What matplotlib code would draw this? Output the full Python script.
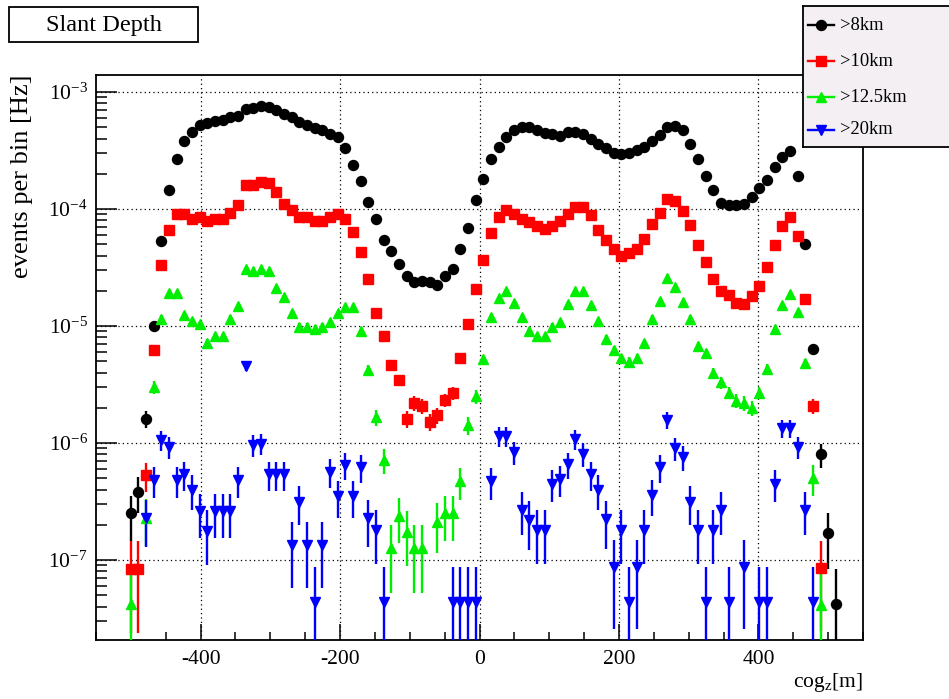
import numpy as np
import matplotlib
matplotlib.use("Agg")
import matplotlib.pyplot as plt
from matplotlib.patches import Rectangle
from matplotlib.ticker import MultipleLocator, LogLocator, NullFormatter

plt.rcParams['font.family'] = ['Liberation Serif', 'DejaVu Serif']
plt.rcParams['mathtext.fontset'] = 'custom'
plt.rcParams['mathtext.rm'] = 'Liberation Serif'
plt.rcParams['mathtext.it'] = 'Liberation Serif:italic'
plt.rcParams['axes.unicode_minus'] = False

# histogram binning: 100 bins over [-550, 550], values given for bins 4..96
edges = np.linspace(-550, 550, 101)
centers = 0.5 * (edges[:-1] + edges[1:])
x = centers[4:97]

# rate of one single event (lowest points), used for the Poisson error bars
unit = 4.3e-8

labels = [">8km", ">10km", ">12.5km", ">20km"]

y_8km = [
    2.5e-7, 3.8e-7, 1.6e-6, 1.0e-5, 5.3e-5, 1.45e-4, 2.7e-4, 3.85e-4, 4.55e-4, 5.2e-4,
    5.4e-4, 5.65e-4, 5.8e-4, 6.1e-4, 6.2e-4, 7.1e-4, 7.3e-4, 7.6e-4, 7.4e-4, 7.0e-4,
    6.5e-4, 6.1e-4, 5.6e-4, 5.2e-4, 4.9e-4, 4.7e-4, 4.4e-4, 4.1e-4, 3.3e-4, 2.4e-4,
    1.73e-4, 1.16e-4, 8.2e-5, 5.4e-5, 4.4e-5, 3.4e-5, 2.7e-5, 2.4e-5, 2.45e-5, 2.4e-5,
    2.25e-5, 2.7e-5, 3.05e-5, 4.6e-5, 6.9e-5, 1.19e-4, 1.8e-4, 2.7e-4, 3.4e-4, 4.1e-4,
    4.7e-4, 5.0e-4, 5.0e-4, 4.7e-4, 4.5e-4, 4.4e-4, 4.2e-4, 4.6e-4, 4.6e-4, 4.4e-4,
    4.0e-4, 3.6e-4, 3.3e-4, 3.0e-4, 2.95e-4, 3.0e-4, 3.2e-4, 3.4e-4, 3.8e-4, 4.3e-4,
    5.0e-4, 5.1e-4, 4.7e-4, 3.6e-4, 2.7e-4, 1.9e-4, 1.45e-4, 1.12e-4, 1.08e-4, 1.08e-4,
    1.1e-4, 1.27e-4, 1.5e-4, 1.77e-4, 2.3e-4, 2.8e-4, 3.15e-4, 1.9e-4, 5.0e-5, 6.4e-6,
    8.0e-7, 1.69e-7, 4.2e-8]

y_10km = [
    8.4e-8, 8.4e-8, 5.3e-7, 6.3e-6, 3.3e-5, 6.6e-5, 9.1e-5, 9.1e-5, 8.3e-5, 8.6e-5,
    7.9e-5, 8.2e-5, 8.3e-5, 9.2e-5, 1.08e-4, 1.6e-4, 1.6e-4, 1.71e-4, 1.66e-4, 1.39e-4,
    1.1e-4, 9.9e-5, 8.6e-5, 8.6e-5, 7.9e-5, 7.9e-5, 8.5e-5, 9.1e-5, 8.3e-5, 6.4e-5,
    4.3e-5, 2.5e-5, 1.28e-5, 8.2e-6, 4.6e-6, 3.45e-6, 1.6e-6, 2.2e-6, 2.07e-6, 1.52e-6,
    1.73e-6, 2.33e-6, 2.66e-6, 5.3e-6, 1.05e-5, 2.06e-5, 3.7e-5, 6.3e-5, 8.6e-5, 9.9e-5,
    9.1e-5, 8.3e-5, 7.8e-5, 7.1e-5, 6.7e-5, 7.1e-5, 7.9e-5, 9.1e-5, 1.05e-4, 1.05e-4,
    8.9e-5, 6.6e-5, 5.4e-5, 4.6e-5, 4.0e-5, 4.2e-5, 4.6e-5, 5.6e-5, 7.4e-5, 9.3e-5,
    1.21e-4, 1.18e-4, 9.6e-5, 7.3e-5, 4.9e-5, 3.5e-5, 2.5e-5, 2.0e-5, 1.84e-5, 1.56e-5,
    1.55e-5, 1.8e-5, 2.2e-5, 3.2e-5, 4.9e-5, 7.1e-5, 8.6e-5, 5.9e-5, 1.7e-5, 2.07e-6,
    8.5e-8, 0, 0]

y_12km = [
    4.2e-8, 0, 2.3e-7, 3.0e-6, 1.16e-5, 1.93e-5, 1.93e-5, 1.24e-5, 1.11e-5, 1.04e-5,
    7.2e-6, 8.2e-6, 8.2e-6, 1.16e-5, 1.48e-5, 3.1e-5, 2.95e-5, 3.1e-5, 2.95e-5, 2.1e-5,
    1.76e-5, 1.3e-5, 9.9e-6, 9.9e-6, 9.5e-6, 9.9e-6, 1.09e-5, 1.28e-5, 1.46e-5, 1.46e-5,
    9.1e-6, 4.2e-6, 1.66e-6, 7.2e-7, 1.26e-7, 2.4e-7, 1.75e-7, 1.26e-7, 1.26e-7, 0,
    2.1e-7, 2.5e-7, 2.5e-7, 4.7e-7, 1.43e-6, 2.5e-6, 5.2e-6, 1.19e-5, 1.72e-5, 2.0e-5,
    1.56e-5, 1.19e-5, 9.1e-6, 8.2e-6, 8.2e-6, 9.9e-6, 1.09e-5, 1.53e-5, 2.0e-5, 1.98e-5,
    1.51e-5, 1.11e-5, 7.8e-6, 6.2e-6, 5.3e-6, 4.96e-6, 5.3e-6, 7.1e-6, 1.16e-5, 1.64e-5,
    2.56e-5, 2.14e-5, 1.61e-5, 1.16e-5, 6.7e-6, 5.9e-6, 4.0e-6, 3.3e-6, 2.7e-6, 2.3e-6,
    2.2e-6, 2.0e-6, 2.7e-6, 4.3e-6, 9.5e-6, 1.5e-5, 1.88e-5, 1.33e-5, 4.8e-6, 5.0e-7,
    4.1e-8, 0, 0]

y_20km = [
    0, 0, 2.27e-7, 4.8e-7, 1.06e-6, 9.3e-7, 4.8e-7, 5.4e-7, 4.0e-7, 2.6e-7,
    1.78e-7, 2.6e-7, 2.6e-7, 2.6e-7, 4.8e-7, 4.55e-6, 9.6e-7, 9.9e-7, 5.4e-7, 5.4e-7,
    5.4e-7, 1.34e-7, 3.15e-7, 1.34e-7, 4.4e-8, 1.34e-7, 5.7e-7, 3.5e-7, 6.5e-7, 3.5e-7,
    6.2e-7, 2.27e-7, 1.8e-7, 4.4e-8, 0, 0, 0, 0, 0, 0,
    0, 0, 4.4e-8, 4.4e-8, 4.4e-8, 4.4e-8, 0, 4.7e-7, 1.15e-6, 1.15e-6,
    8.4e-7, 2.7e-7, 2.2e-7, 1.8e-7, 1.8e-7, 4.5e-7, 4.9e-7, 6.6e-7, 1.08e-6, 8.1e-7,
    5.4e-7, 4.0e-7, 2.23e-7, 8.7e-8, 1.8e-7, 4.4e-8, 8.7e-8, 1.8e-7, 3.6e-7, 6.2e-7,
    1.57e-6, 9.0e-7, 7.6e-7, 3.15e-7, 1.8e-7, 4.4e-8, 1.8e-7, 2.7e-7, 4.4e-8, 0,
    8.7e-8, 0, 4.4e-8, 4.4e-8, 4.5e-7, 1.34e-6, 1.34e-6, 9.3e-7, 2.7e-7, 4.4e-8,
    0, 0, 0]

series = [y_8km, y_10km, y_12km, y_20km]
colors = ['black', '#ff0000', '#00ee00', '#0000ff']
markers = ['o', 's', '^', 'v']
msizes = [7.2, 7.2, 7.6, 7.8]

W, H = 949, 699
fig = plt.figure(figsize=(W / 100, H / 100), dpi=100)
ax = fig.add_axes([96 / W, 1 - 640 / H, 767 / W, 565 / H])

for ys, c, m, ms in zip(series, colors, markers, msizes):
    ys = np.array(ys, dtype=float)
    ok = ys > 0
    xs, yv = x[ok], ys[ok]
    err = np.sqrt(yv * unit)
    lo = np.minimum(err, yv * 0.9999)
    ax.errorbar(xs, yv, yerr=[lo, err], fmt=m, color=c, ms=ms, mec=c,
                elinewidth=1.7, capsize=0, zorder=3)

ax.set_yscale('log')
ax.set_xlim(-550, 550)
ax.set_ylim(2.07e-8, 1.4e-3)

ax.xaxis.set_major_locator(MultipleLocator(200))
ax.xaxis.set_minor_locator(MultipleLocator(50))
ax.yaxis.set_major_locator(LogLocator(base=10, numticks=20))
ax.yaxis.set_minor_locator(LogLocator(base=10, subs=np.arange(2, 10), numticks=20))
ax.yaxis.set_minor_formatter(NullFormatter())

ax.tick_params(axis='both', which='both', direction='in', top=False, right=False,
               labelsize=15.5, color='black', width=1.1)
ax.tick_params(axis='y', which='major', length=15, pad=6)
ax.tick_params(axis='y', which='minor', length=8)
ax.tick_params(axis='x', which='major', length=11.5, pad=7)
ax.tick_params(axis='x', which='minor', length=6)

ax.grid(True, which='major', color='black', linestyle=(0, (1, 2.5)), linewidth=0.9)
ax.set_axisbelow(True)
for s in ax.spines.values():
    s.set_linewidth(1.3)

fig.text(22 / W, 1 - 75 / H, "events per bin [Hz]", rotation=90, ha='center', va='top',
         fontsize=19)
fig.text(863 / W, 1 - 683 / H, "cog$_{\\rm z}$[m]", ha='right', va='center', fontsize=15.5)

# title box
fig.patches.append(Rectangle((9 / W, 1 - 42 / H), 189 / W, 35 / H, transform=fig.transFigure,
                             facecolor='white', edgecolor='black', linewidth=1.3))
fig.text(103.5 / W, 1 - 25 / H, "Slant Depth", ha='center', va='center', fontsize=17.5)

# legend box (runs off the right edge as in the original)
lax = fig.add_axes([803 / W, 1 - 147 / H, 160 / W, 141 / H])
lax.set_xlim(0, 160)
lax.set_ylim(0, 141)
lax.set_xticks([])
lax.set_yticks([])
lax.set_facecolor('#f3eff3')
for s in lax.spines.values():
    s.set_linewidth(1.3)
rows = [122, 86, 50, 17]
for lab, c, m, ms, ry in zip(labels, colors, markers, msizes, rows):
    lax.plot([5, 31], [ry, ry], color=c, lw=1.7)
    lax.plot([18], [ry], marker=m, color=c, ms=ms, mec=c)
    lax.text(37, ry, lab, ha='left', va='center', fontsize=13.3)

fig.savefig("out.png", dpi=100)
